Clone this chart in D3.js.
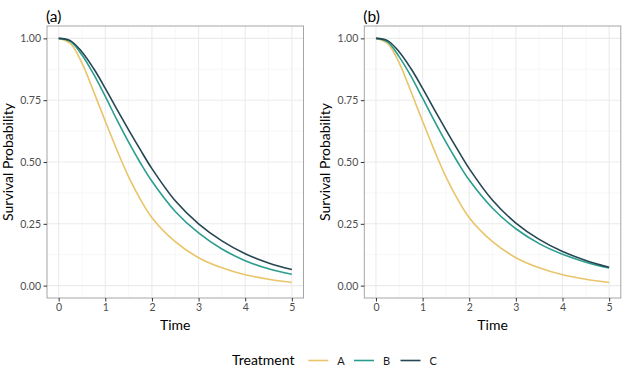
<!DOCTYPE html>
<html><head><meta charset="utf-8">
<script src="https://cdn.jsdelivr.net/npm/d3@7"></script>
<style>body{margin:0;background:#fff}svg{display:block}text{font-family:Lato,"Open Sans",sans-serif}</style>
</head><body><svg id="c" width="622" height="367"></svg>
<script>
const time = [0,0.25,0.5,0.75,1,1.25,1.5,1.75,2,2.5,3,3.5,4,4.5,5];
const aA = [1,0.98,0.90,0.785,0.665,0.548,0.44,0.35,0.275,0.178,0.113,0.072,0.044,0.026,0.013];
const aB = [1,0.988,0.933,0.855,0.765,0.67,0.58,0.497,0.422,0.30,0.213,0.148,0.101,0.068,0.046];
const aC = [1,0.991,0.945,0.878,0.798,0.713,0.63,0.55,0.473,0.343,0.25,0.181,0.129,0.092,0.065];
const bA = [1,0.98,0.90,0.785,0.665,0.548,0.44,0.35,0.275,0.178,0.113,0.072,0.044,0.026,0.013];
const bB = [1,0.986,0.925,0.847,0.758,0.667,0.58,0.5,0.427,0.313,0.23,0.17,0.127,0.095,0.071];
const bC = [1,0.991,0.945,0.878,0.798,0.713,0.63,0.55,0.473,0.345,0.253,0.187,0.138,0.102,0.074];
const treatments = ["A","B","C"];
const colors = ["#e9c46a","#2a9d8f","#264653"];
const xTicks = [0,1,2,3,4,5];
const yTicks = [0,0.25,0.5,0.75,1];
const panelTitles = ["(a)","(b)"];
const panels = [[aA,aB,aC],[bA,bB,bC]];

const svg = d3.select("#c");
const lefts = [47, 364.3], pw = 256.5, pTop = 26, pBottom = 298;

panels.forEach((series, pi) => {
  const L = lefts[pi];
  const x = d3.scaleLinear().domain([-0.25,5.25]).range([L, L+pw]);
  const y = d3.scaleLinear().domain([-0.05,1.05]).range([pBottom, pTop]);
  const g = svg.append("g");
  const xMinor = [0.5,1.5,2.5,3.5,4.5], yMinor = [0.125,0.375,0.625,0.875];
  g.selectAll(".xm").data(xMinor).join("line").attr("x1",d=>x(d)).attr("x2",d=>x(d)).attr("y1",pTop).attr("y2",pBottom).attr("stroke","#f2f2f2").attr("stroke-width",0.6);
  g.selectAll(".ym").data(yMinor).join("line").attr("y1",d=>y(d)).attr("y2",d=>y(d)).attr("x1",L).attr("x2",L+pw).attr("stroke","#f2f2f2").attr("stroke-width",0.6);
  g.selectAll(".xg").data(xTicks).join("line").attr("x1",d=>x(d)).attr("x2",d=>x(d)).attr("y1",pTop).attr("y2",pBottom).attr("stroke","#ebebeb").attr("stroke-width",1.1);
  g.selectAll(".yg").data(yTicks).join("line").attr("y1",d=>y(d)).attr("y2",d=>y(d)).attr("x1",L).attr("x2",L+pw).attr("stroke","#ebebeb").attr("stroke-width",1.1);
  const line = d3.line().x((d,i)=>x(time[i])).y(d=>y(d)).curve(d3.curveCatmullRom.alpha(0.5));
  series.forEach((s, si) => {
    g.append("path").attr("d", line(s)).attr("fill","none").attr("stroke",colors[si]).attr("stroke-width",1.6);
  });
  g.append("rect").attr("x",L).attr("y",pTop).attr("width",pw).attr("height",pBottom-pTop).attr("fill","none").attr("stroke","#a6a6a6").attr("stroke-width",1);
  const xa = d3.axisBottom(x).tickValues(xTicks).tickSize(3.5).tickPadding(2).tickFormat(d3.format("d"));
  const xg = g.append("g").attr("transform",`translate(0,${pBottom})`).call(xa);
  const ya = d3.axisLeft(y).tickValues(yTicks).tickSize(3.5).tickPadding(2.5).tickFormat(d3.format(".2f"));
  const yg = g.append("g").attr("transform",`translate(${L},0)`).call(ya);
  [xg,yg].forEach(a=>{
    a.select(".domain").remove();
    a.selectAll(".tick line").attr("stroke","#333").attr("stroke-width",1);
    a.selectAll(".tick text").attr("fill","#4d4d4d").style("font-size","10.5px").style("font-family","Lato, sans-serif");
  });
  g.append("text").attr("x",L-1).attr("y",22).text(panelTitles[pi]).attr("fill","#000").style("font-size","15.5px");
  g.append("text").attr("x",L+pw/2).attr("y",330).attr("text-anchor","middle").text("Time").attr("fill","#000").style("font-size","14px");
  g.append("text").attr("transform",`translate(${L-34},${(pTop+pBottom)/2}) rotate(-90)`).attr("text-anchor","middle").text("Survival Probability").attr("fill","#000").style("font-size","14px");
});

const lg = svg.append("g");
lg.append("text").attr("x",232).attr("y",365).text("Treatment").style("font-size","14px").attr("fill","#000");
const keyX = [308.3, 354, 400.5];
treatments.forEach((t,i)=>{
  lg.append("line").attr("x1",keyX[i]).attr("x2",keyX[i]+20).attr("y1",360.5).attr("y2",360.5).attr("stroke",colors[i]).attr("stroke-width",1.6);
  lg.append("text").attr("x",keyX[i]+29).attr("y",364.5).text(t).style("font-size","11px").attr("fill","#1a1a1a");
});
</script></body></html>
